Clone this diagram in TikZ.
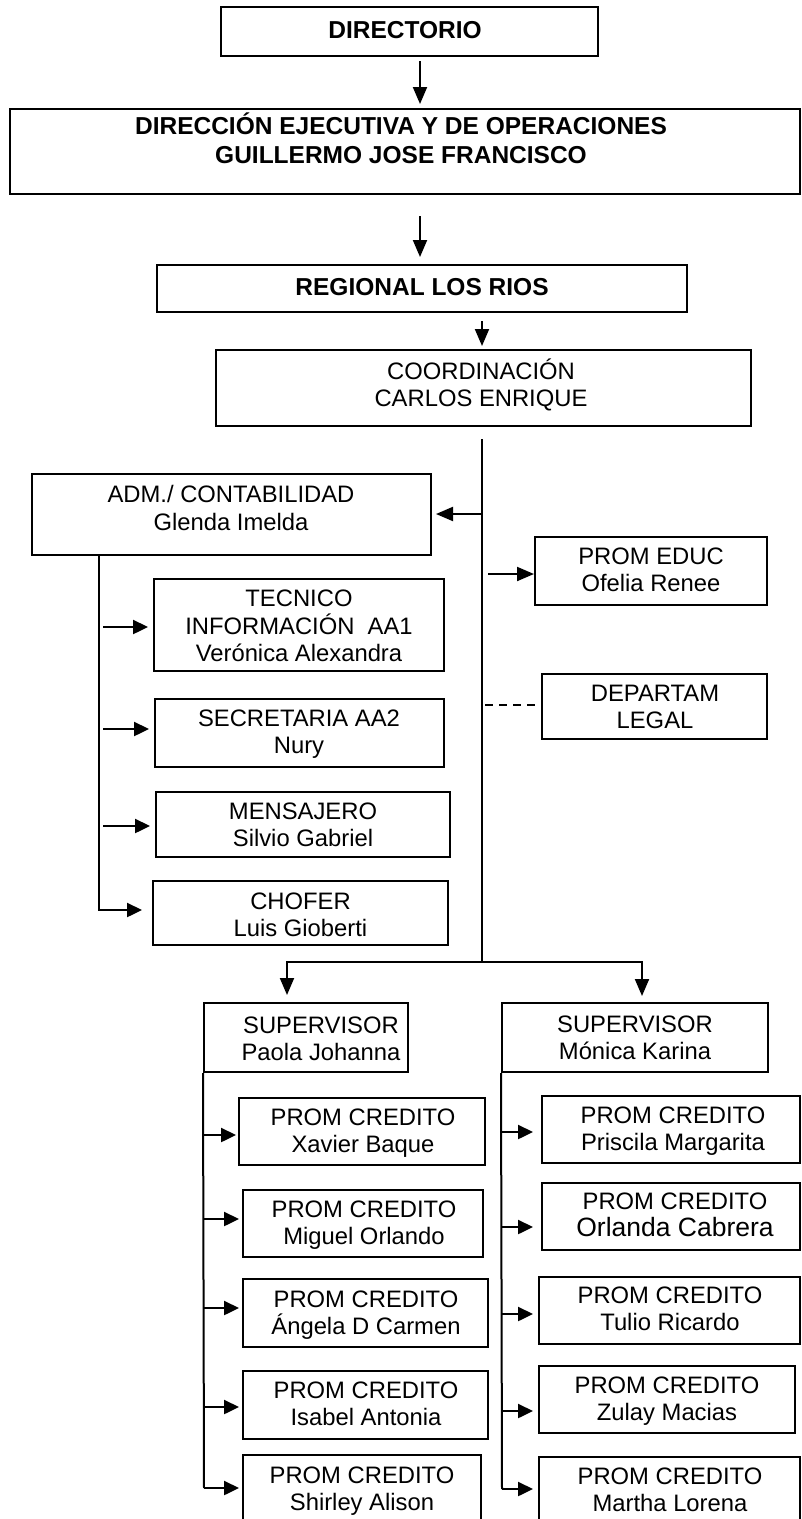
\documentclass[tikz,border=0pt]{standalone}
\usepackage{fontspec}
\setmainfont{Liberation Sans}
\usetikzlibrary{arrows.meta}
\newcommand\obox[5]{\node[box, minimum width={(#3)-(#1)}, minimum height={(#4)-(#2)}] (#5) at ({((#1)+(#3))/2},{((#2)+(#4))/2}) {};}
\begin{document}
\begin{tikzpicture}[x=1pt,y=-1pt,
 box/.style={draw, line width=2pt, inner sep=0pt},
 txt/.style={align=center, inner sep=0pt, font=\fontsize{23.8}{27.5}\selectfont},
 btxt/.style={align=center, inner sep=0pt, font=\fontsize{24.5}{29}\selectfont\bfseries},
 ln/.style={line width=2pt},
 arr/.style={line width=2pt, -{Triangle[length=17pt,width=14pt]}},
 sarr/.style={line width=2.4pt, -{Triangle[length=15pt,width=14pt]}},
 dsh/.style={line width=1.6pt, dash pattern=on 8pt off 6pt}]
\useasboundingbox (0,0) rectangle (802,1519);
\clip (0,0) rectangle (802,1519);
% boxes
\obox{221}{7}{598}{56}{dir}
\obox{10}{109}{800}{194}{exec}
\obox{157}{265}{687}{312}{reg}
\obox{216}{350}{751}{426}{coord}
\obox{32}{474}{431}{555}{adm}
\obox{535}{537}{767}{605}{educ}
\obox{154}{579}{444}{671}{tec}
\obox{542}{674}{767}{739}{dep}
\obox{155}{699}{444}{767}{sec}
\obox{156}{792}{450}{857}{men}
\obox{153}{881}{448}{945}{cho}
\obox{204}{1003}{408}{1072}{supL}
\obox{502}{1003}{768}{1072}{supR}
\obox{239}{1098}{485}{1165}{xav}
\obox{243}{1190}{483}{1257}{mig}
\obox{243}{1279}{488}{1347}{ang}
\obox{243}{1371}{488}{1439}{isa}
\obox{243}{1455}{481}{1522}{shi}
\obox{542}{1096}{800}{1163}{pri}
\obox{542}{1183}{800}{1250}{orl}
\obox{539}{1277}{800}{1344}{tul}
\obox{539}{1366}{795}{1433}{zul}
\obox{539}{1457}{800}{1524}{mar}
% texts
\node[btxt] (dir-t) at (405,30) {DIRECTORIO};
\node[btxt] (exec-t) at (401,138) {DIRECCIÓN EJECUTIVA Y DE OPERACIONES\\GUILLERMO JOSE FRANCISCO};
\node[btxt] (reg-t) at (422,287) {REGIONAL LOS RIOS};
\node[txt] (coord-t) at (481,385) {COORDINACIÓN\\CARLOS ENRIQUE};
\node[txt] (adm-t) at (231,508) {ADM./ CONTABILIDAD\\Glenda Imelda};
\node[txt] (educ-t) at (651,570) {PROM EDUC\\Ofelia Renee};
\node[txt] (tec-t) at (299,626) {TECNICO\\INFORMACIÓN\ \ AA1\\Verónica Alexandra};
\node[txt] (dep-t) at (655,707) {DEPARTAM\\LEGAL};
\node[txt] (sec-t) at (299,734) {SECRETARIA AA2\\Nury};
\node[txt] (men-t) at (303,825) {MENSAJERO\\Silvio Gabriel};
\node[txt] (cho-t) at (300.5,915) {CHOFER\\Luis Gioberti};
\node[txt] (supL-t) at (321,1039) {SUPERVISOR\\Paola Johanna};
\node[txt] (supR-t) at (635,1038) {SUPERVISOR\\Mónica Karina};
\node[txt] (xav-t) at (363,1133) {PROM CREDITO\\Xavier Baque};
\node[txt] (mig-t) at (364,1225) {PROM CREDITO\\Miguel Orlando};
\node[txt] (ang-t) at (366,1315) {PROM CREDITO\\Ángela D Carmen};
\node[txt] (isa-t) at (366,1404) {PROM CREDITO\\Isabel Antonia};
\node[txt] (shi-t) at (362,1491) {PROM CREDITO\\Shirley Alison};
\node[txt] (pri-t) at (673,1131) {PROM CREDITO\\Priscila Margarita};
\node[txt] (orl-t) at (675,1215) {PROM CREDITO\\{\fontsize{26.5}{30}\selectfont Orlanda Cabrera}};
\node[txt] (tul-t) at (670,1309) {PROM CREDITO\\Tulio Ricardo};
\node[txt] (zul-t) at (667,1401) {PROM CREDITO\\Zulay Macias};
\node[txt] (mar-t) at (670,1490) {PROM CREDITO\\Martha Lorena};
% connectors top
\coordinate (ax1) at (420,0);
\coordinate (ax3) at (482,0);
\draw[arr, shorten <=4pt, shorten >=4pt] (dir.south -| ax1) -- (exec.north -| ax1);
\draw[arr, shorten <=21pt, shorten >=7pt] (exec.south -| ax1) -- (reg.north -| ax1);
\draw[arr, shorten <=8pt, shorten >=3pt] (reg.south -| ax3) -- (coord.north -| ax3);
\coordinate (jn) at (482,962);
\draw[ln, shorten <=12pt] (coord.south -| ax3) -- (jn);
\coordinate (m1) at (482,514);
\draw[arr, shorten >=4pt] (m1) -- (adm.east |- m1);
\coordinate (m2) at (488,574);
\draw[arr] (m2) -- (educ.west |- m2);
\coordinate (m3) at (485,705);
\draw[dsh] (m3) -- (dep.west |- m3);
% ADM branch
\coordinate (av) at (99,910);
\coordinate (t1) at (103,627);
\coordinate (t2) at (103,729);
\coordinate (t3) at (103,826);
\draw[sarr, shorten >=10pt] (adm.south -| av) |- (cho.west |- av);
\draw[sarr, shorten >=5pt] (t1) -- (tec.west |- t1);
\draw[sarr, shorten >=5pt] (t2) -- (sec.west |- t2);
\draw[sarr, shorten >=5pt] (t3) -- (men.west |- t3);
% supervisors
\coordinate (sL) at (287,995);
\coordinate (sR) at (642,996);
\draw[arr] (jn) -| (sL);
\draw[arr] (jn) -| (sR);
% left supervisor branch
\coordinate (lv) at (204,1488);
\draw[ln] (supL.south west) -- (lv);
\coordinate (l1) at (204,1135);
\coordinate (l2) at (204,1219);
\coordinate (l3) at (204,1308);
\coordinate (l4) at (204,1407);
\draw[sarr, shorten >=2pt] (l1) -- (xav.west |- l1);
\draw[sarr, shorten >=3pt] (l2) -- (mig.west |- l2);
\draw[sarr, shorten >=3pt] (l3) -- (ang.west |- l3);
\draw[sarr, shorten >=3pt] (l4) -- (isa.west |- l4);
\draw[sarr, shorten >=3pt] (lv) -- (shi.west |- lv);
% right supervisor branch
\coordinate (rv) at (502,1489);
\draw[ln] (supR.south west) -- (rv);
\coordinate (r1) at (502,1132);
\coordinate (r2) at (502,1227);
\coordinate (r3) at (502,1314);
\coordinate (r4) at (502,1411);
\draw[sarr, shorten >=8pt] (r1) -- (pri.west |- r1);
\draw[sarr, shorten >=8pt] (r2) -- (orl.west |- r2);
\draw[sarr, shorten >=5pt] (r3) -- (tul.west |- r3);
\draw[sarr, shorten >=5pt] (r4) -- (zul.west |- r4);
\draw[sarr, shorten >=5pt] (rv) -- (mar.west |- rv);
\end{tikzpicture}
\end{document}
